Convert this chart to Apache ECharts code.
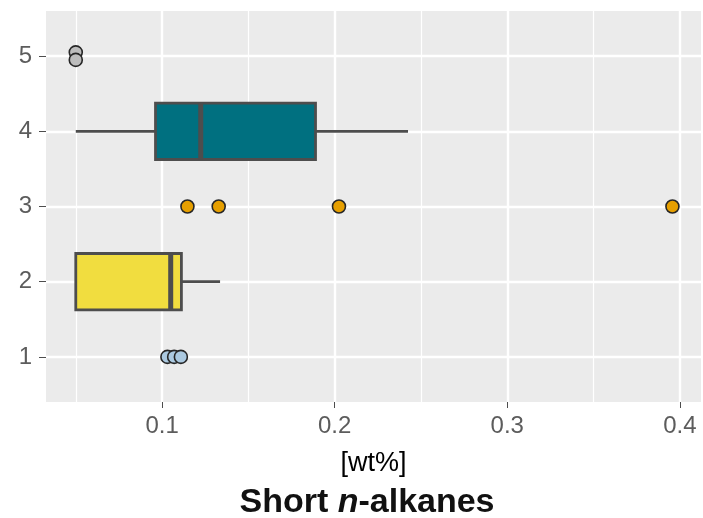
<!DOCTYPE html>
<html>
<head>
<meta charset="utf-8">
<script src="https://cdn.jsdelivr.net/npm/echarts@6/dist/echarts.min.js"></script>
<style>
  html, body { margin: 0; padding: 0; background: #fff; }
  #chart { width: 703px; height: 518px; }
</style>
</head>
<body>
<div id="chart"></div>
<script>
// groups on the y axis
const categories = [1, 2, 3, 4, 5]
const xTicks = [0.1, 0.2, 0.3, 0.4]
const xMinorTicks = [0.05, 0.15, 0.25, 0.35]

// boxplots (only groups 2 and 4 have a box)
const boxGroups = [2, 4]
const whiskerLow = [0.05, 0.05]
const q1 = [0.05, 0.0962]
const median = [0.105, 0.1224]
const q3 = [0.1112, 0.1889]
const whiskerHigh = [0.1336, 0.2425]
const boxFill = ['#F1DD3F', '#007080']

// single points
const points1 = [0.1031, 0.107, 0.1109]
const points3 = [0.1147, 0.1328, 0.2025, 0.3957]
const points5 = [0.05, 0.05]
const points5Jitter = [0.05, -0.05]

const xMin = 0.03275
const xMax = 0.41225
const font = '"Liberation Sans", Arial, sans-serif'
const stroke = '#4D4D4D'

var chart = echarts.init(document.getElementById('chart'))

function renderBox(params, api) {
  let y = api.value(0)
  let lo = api.coord([api.value(1), y])
  let a = api.coord([api.value(2), y])
  let m = api.coord([api.value(3), y])
  let b = api.coord([api.value(4), y])
  let hi = api.coord([api.value(5), y])
  let h = api.size([0, 0.75])[1]
  let children = []
  if (a[0] - lo[0] > 0.5) {
    children.push({ type: 'line', shape: { x1: lo[0], y1: lo[1], x2: a[0], y2: a[1] }, style: { stroke: stroke, lineWidth: 2.8 } })
  }
  if (hi[0] - b[0] > 0.5) {
    children.push({ type: 'line', shape: { x1: b[0], y1: b[1], x2: hi[0], y2: hi[1] }, style: { stroke: stroke, lineWidth: 2.8 } })
  }
  children.push({
    type: 'rect',
    shape: { x: a[0], y: a[1] - h / 2, width: b[0] - a[0], height: h },
    style: { fill: boxFill[params.dataIndex], stroke: stroke, lineWidth: 2.8 }
  })
  children.push({
    type: 'line',
    shape: { x1: m[0], y1: m[1] - h / 2, x2: m[0], y2: m[1] + h / 2 },
    style: { stroke: stroke, lineWidth: 5 }
  })
  return { type: 'group', children: children }
}

function pointSeries(values, y, color, jitter) {
  return {
    type: 'scatter',
    xAxisIndex: 0,
    symbol: 'circle',
    symbolSize: 13,
    z: 5,
    itemStyle: { color: color, borderColor: '#262626', borderWidth: 1.6, opacity: 1 },
    data: values.map((v, i) => [v, y + (jitter ? jitter[i] : 0)])
  }
}

let option = {
  animation: false,
  backgroundColor: '#fff',
  title: {
    text: '{b|Short }{bi|n}{b|-alkanes}',
    left: 362,
    top: 481,
    textAlign: 'center',
    textStyle: {
      rich: {
        b: { fontFamily: font, fontWeight: 'bold', fontSize: 34, color: '#111' },
        bi: { fontFamily: font, fontWeight: 'bold', fontStyle: 'italic', fontSize: 34, color: '#111' }
      }
    }
  },
  grid: {
    left: 46,
    right: 2,
    top: 11,
    bottom: 116,
    show: true,
    backgroundColor: '#EBEBEB',
    borderWidth: 0
  },
  xAxis: [
    {
      type: 'value',
      min: xMin,
      max: xMax,
      name: '[wt%]',
      nameLocation: 'middle',
      nameGap: 48,
      nameTextStyle: { fontFamily: font, fontSize: 27, color: '#000' },
      axisLine: { show: false },
      axisTick: { show: true, length: 6, customValues: xTicks, lineStyle: { color: '#4D4D4D', width: 1 } },
      axisLabel: {
        customValues: xTicks,
        margin: 12,
        fontFamily: font,
        fontSize: 24,
        color: '#5C5C5C',
        formatter: v => v.toFixed(1)
      },
      splitLine: { show: true, lineStyle: { color: '#fff', width: 2.4 } },
      z: 2
    },
    {
      type: 'value',
      min: xMin,
      max: xMax,
      axisLine: { show: false },
      axisTick: { show: false, customValues: xMinorTicks },
      axisLabel: { show: false, customValues: xMinorTicks },
      splitLine: { show: true, lineStyle: { color: '#fff', width: 1.2 } },
      z: 1
    }
  ],
  yAxis: {
    type: 'value',
    min: 0.4,
    max: 5.6,
    axisLine: { show: false },
    axisTick: { show: true, length: 7, customValues: categories, lineStyle: { color: '#4D4D4D', width: 1 } },
    axisLabel: {
      customValues: categories,
      margin: 14,
      fontFamily: font,
      fontSize: 24,
      color: '#5C5C5C'
    },
    splitLine: { show: true, lineStyle: { color: '#fff', width: 2.4 } }
  },
  series: [
    {
      type: 'custom',
      xAxisIndex: 0,
      renderItem: renderBox,
      encode: { x: [1, 2, 3, 4, 5], y: 0 },
      z: 3,
      data: boxGroups.map((g, i) => [g, whiskerLow[i], q1[i], median[i], q3[i], whiskerHigh[i]])
    },
    pointSeries(points1, categories[0], '#ABC9E0'),
    pointSeries(points3, categories[2], '#E69F00'),
    pointSeries(points5, categories[4], '#BDBDBD', points5Jitter)
  ]
}
chart.setOption(option)
</script>
</body>
</html>
